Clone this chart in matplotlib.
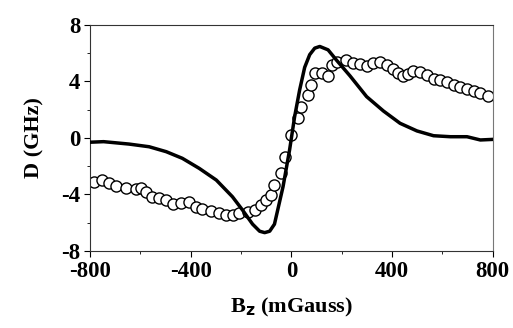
import matplotlib
matplotlib.use("Agg")
import matplotlib.pyplot as plt
from matplotlib.ticker import MultipleLocator

plt.rcParams['axes.unicode_minus'] = False

# Solid curve (theory)
line_B = [-800, -746, -645, -565, -497, -433, -366, -298, -234, -194, -154, -126, -106, -86,
          -67, -33, -7, 13, 33, 53, 73, 93, 113, 146, 180, 233, 299, 366, 432, 499,
          565, 632, 698, 751, 800]
line_D = [-0.3, -0.26, -0.43, -0.62, -0.97, -1.44, -2.15, -2.98, -4.16, -5.1, -6.1, -6.6, -6.7, -6.6,
          -6.1, -3.45, -0.85, 1.5, 3.4, 5.0, 5.9, 6.36, 6.48, 6.24, 5.5, 4.4, 2.93, 1.91, 1.04, 0.5,
          0.16, 0.09, 0.09, -0.14, -0.1]

# Circles (measurement)
pts_B = [-785, -752, -725, -698, -658, -618, -598, -578, -552, -525, -499, -472, -439, -406,
         -379, -353, -319, -286, -259, -233, -206, -173, -146, -120, -100, -80, -67, -40, -27,
         0, 26, 40, 66, 80, 93, 120, 146, 160, 180, 219, 246, 273, 299, 326, 352, 379, 405,
         425, 445, 465, 485, 512, 539, 565, 592, 619, 645, 672, 698, 725, 751, 781]
pts_D = [-3.1, -2.98, -3.2, -3.4, -3.57, -3.64, -3.57, -3.8, -4.16, -4.28, -4.4, -4.68, -4.63, -4.52,
         -4.88, -5.06, -5.18, -5.34, -5.46, -5.46, -5.34, -5.23, -5.1, -4.75, -4.4, -4.04, -3.33, -2.5, -1.33,
         0.2, 1.39, 2.2, 3.05, 3.76, 4.58, 4.58, 4.4, 5.18, 5.41, 5.5, 5.34, 5.22, 5.1, 5.29, 5.36, 5.18, 4.89,
         4.58, 4.4, 4.54, 4.77, 4.7, 4.47, 4.16, 4.11, 3.99, 3.76, 3.6, 3.45, 3.36, 3.21, 3.0]

x_ticks = [-800, -400, 0, 400, 800]
y_ticks = [-8, -4, 0, 4, 8]

fig = plt.figure(figsize=(5.13, 3.28), dpi=100)
ax = fig.add_axes([0.1754, 0.2348, 0.785, 0.6890])

fam = ['Liberation Serif', 'DejaVu Serif']
ax.plot(line_B, line_D, color='black', lw=2.5, zorder=3)
ax.plot(pts_B, pts_D, linestyle='none', marker='o', markersize=8.0,
        markerfacecolor='white', markeredgecolor='black', markeredgewidth=1.0, zorder=2)

ax.set_xlim(-800, 800)
ax.set_ylim(-8, 8)
ax.set_xticks(x_ticks)
ax.set_yticks(y_ticks)
ax.xaxis.set_minor_locator(MultipleLocator(200))
ax.yaxis.set_minor_locator(MultipleLocator(2))
ax.tick_params(which='major', direction='out', length=4, width=0.8, labelsize=16.5, pad=3)
ax.tick_params(which='minor', direction='out', length=2.5, width=0.6)
ax.tick_params(top=False, right=False)
for lab in ax.get_xticklabels() + ax.get_yticklabels():
    lab.set_family(fam)
    lab.set_fontweight('bold')
for s in ax.spines.values():
    s.set_linewidth(0.8)
    s.set_color('#333333')
ax.spines['right'].set_color('#777777')

ax.set_xlabel(r'B$_\mathbf{z}$ (mGauss)', fontsize=16, fontweight='bold', family=fam, labelpad=10)
ax.set_ylabel('D (GHz)', fontsize=16, fontweight='bold', family=fam, labelpad=12)

fig.savefig('out.png', dpi=100)
